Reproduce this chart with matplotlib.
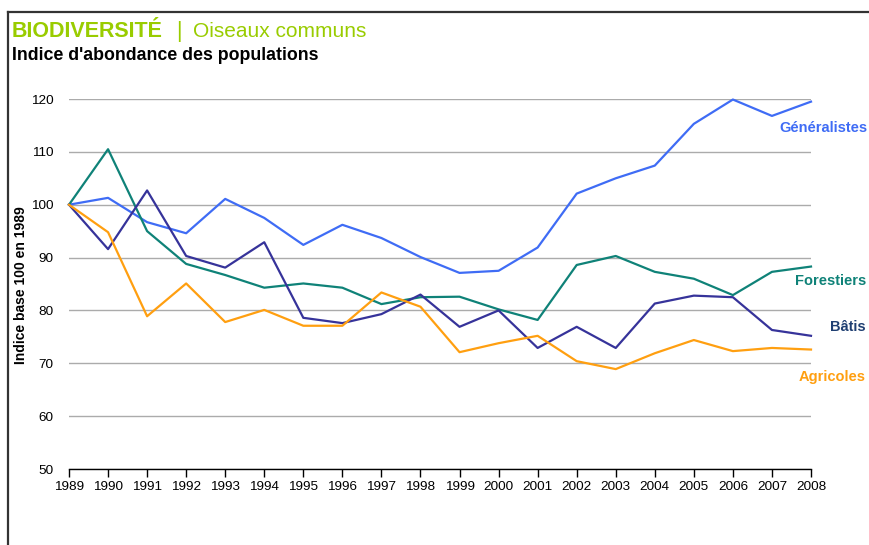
import numpy as np
import matplotlib.pyplot as plt
from matplotlib.lines import Line2D

plt.rcParams['font.family'] = ['Liberation Sans', 'DejaVu Sans']

# Data
years = list(range(1989, 2009))
generalistes = [100, 101.3, 96.7, 94.6, 101.1, 97.5, 92.4, 96.2, 93.7, 90.1,
                87.1, 87.5, 91.9, 102.1, 105.0, 107.4, 115.3, 119.9, 116.8, 119.5]
forestiers = [100, 110.5, 95.0, 88.8, 86.7, 84.3, 85.1, 84.3, 81.2, 82.5,
              82.6, 80.2, 78.2, 88.6, 90.3, 87.3, 86.0, 82.9, 87.3, 88.3]
batis = [100, 91.6, 102.7, 90.3, 88.1, 92.9, 78.6, 77.6, 79.3, 83.0,
         76.9, 80.0, 72.9, 76.9, 72.9, 81.3, 82.8, 82.5, 76.3, 75.2]
agricoles = [100, 94.8, 78.9, 85.1, 77.8, 80.1, 77.1, 77.1, 83.4, 80.7,
             72.1, 73.8, 75.2, 70.4, 68.9, 71.9, 74.4, 72.3, 72.9, 72.6]
yticks = [50, 60, 70, 80, 90, 100, 110, 120]

# name, values, line colour, label colour, label right edge x, label y (pixels)
series = [
    ('Généralistes', generalistes, '#3f6cf5', '#3f6cf5', 868, 128),
    ('Forestiers', forestiers, '#0f8278', '#0f8278', 866, 281),
    ('Bâtis', batis, '#36339a', '#1f3f72', 866, 327),
    ('Agricoles', agricoles, '#ff9f10', '#ff9f10', 866, 377),
]

W, H = 870, 545
fig = plt.figure(figsize=(W / 100, H / 100), dpi=100)
ax = fig.add_axes([69 / W, 1 - 469 / H, (811 - 69) / W, (469 - 99) / H])

for name, vals, col, lcol, lx, ly in series:
    ax.plot(years, vals, color=col, lw=1.6, clip_on=False, zorder=3)
    fig.text(lx / W, 1 - ly / H, name, color=lcol, fontsize=10.5,
             fontweight='bold', ha='right', va='center')

ax.set_xlim(1989, 2008)
ax.set_ylim(50, 120)
ax.set_yticks(yticks)
ax.set_xticks(years)
ax.set_xticklabels([str(y) for y in years])
ax.yaxis.grid(True, color='#ababab', lw=1.0)
ax.set_axisbelow(True)
for s in ['left', 'right', 'top']:
    ax.spines[s].set_visible(False)
ax.spines['bottom'].set_color('black')
ax.spines['bottom'].set_linewidth(1.0)
ax.tick_params(axis='y', length=0, pad=11, labelsize=9.7)
ax.tick_params(axis='x', direction='out', length=6, width=1.0, pad=3, labelsize=9.7)
ax.set_ylabel('Indice base 100 en 1989', fontsize=10, fontweight='bold')
ax.yaxis.label.set_va('center')
ax.yaxis.set_label_coords((21 - 69) / (811 - 69), (469 - 285) / (469 - 99))

# Titles
fig.text(12 / W, 1 - 37 / H, 'BIODIVERSITÉ', color='#99cc00', fontsize=15.5,
         fontweight='bold', va='baseline', ha='left')
fig.text(176 / W, 1 - 37 / H, '|', color='#99cc00', fontsize=15.5,
         va='baseline', ha='left')
fig.text(193 / W, 1 - 37 / H, 'Oiseaux communs', color='#99cc00', fontsize=15,
         va='baseline', ha='left')
fig.text(12 / W, 1 - 60 / H, "Indice d'abondance des populations", fontsize=12.8,
         fontweight='bold', va='baseline', ha='left')

# Frame
fig.add_artist(Line2D([8 / W, 8 / W], [0, 1 - 12 / H], color='#333333', lw=1.6,
                      transform=fig.transFigure))
fig.add_artist(Line2D([8 / W, 1], [1 - 12 / H, 1 - 12 / H], color='#333333', lw=1.6,
                      transform=fig.transFigure))

fig.savefig('out.png', dpi=100)
